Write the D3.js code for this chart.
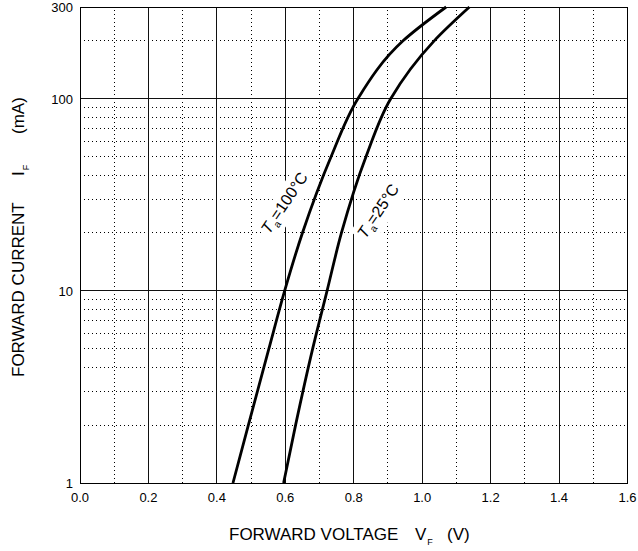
<!DOCTYPE html>
<html>
<head>
<meta charset="utf-8">
<script src="https://cdn.jsdelivr.net/npm/d3@7"></script>
<style>
  body { margin: 0; background: #fff; }
  text { font-family: "Liberation Sans", Arial, sans-serif; fill: #000; }
</style>
</head>
<body>
<svg id="chart" width="638" height="551"></svg>
<script>
// forward current (mA) and forward voltage (V)
const current = [1, 2, 5, 10, 20, 50, 100, 200, 300];
const vf100 = [0.447, 0.492, 0.552, 0.598, 0.650, 0.734, 0.812, 0.944, 1.070];
const vf25 = [0.595, 0.630, 0.680, 0.722, 0.764, 0.836, 0.908, 1.035, 1.138];

const xTicks = [0, 0.2, 0.4, 0.6, 0.8, 1.0, 1.2, 1.4, 1.6];
const xMinor = [0.1, 0.3, 0.5, 0.7, 0.9, 1.1, 1.3, 1.5];
const yTicks = [1, 10, 100, 300];
const yMajor = [10, 100];
const yMinor = [2, 3, 4, 5, 6, 7, 8, 9, 20, 30, 40, 50, 60, 70, 80, 90, 200];

const curves = [
    { name: "100", v: vf100, labelV: 0.553, labelI: 19.5 },
    { name: "25", v: vf25, labelV: 0.834, labelI: 18.5 }
];

const svg = d3.select("#chart");
const margin = { top: 7, right: 10.5, bottom: 68, left: 80 };
const W = 638, H = 551;

const x = d3.scaleLinear()
    .domain([0, 1.6])
    .range([margin.left, W - margin.right]);

const y = d3.scaleLog()
    .domain([1, 300])
    .range([H - margin.bottom, margin.top]);

const grid = svg.append("g").attr("shape-rendering", "crispEdges");

// dotted minor grid
grid.selectAll(".vmin").data(xMinor).enter().append("line")
    .attr("x1", d => x(d)).attr("x2", d => x(d))
    .attr("y1", y(1)).attr("y2", y(300))
    .attr("stroke", "#000").attr("stroke-width", 1)
    .attr("stroke-dasharray", "1,3");

grid.selectAll(".hmin").data(yMinor).enter().append("line")
    .attr("x1", x(0)).attr("x2", x(1.6))
    .attr("y1", d => y(d)).attr("y2", d => y(d))
    .attr("stroke", "#000").attr("stroke-width", 1)
    .attr("stroke-dasharray", "1,3");

// solid major grid
grid.selectAll(".vmaj").data(xTicks.slice(1, -1)).enter().append("line")
    .attr("x1", d => x(d)).attr("x2", d => x(d))
    .attr("y1", y(1)).attr("y2", y(300))
    .attr("stroke", "#111").attr("stroke-width", 1);

grid.selectAll(".hmaj").data(yMajor).enter().append("line")
    .attr("x1", x(0)).attr("x2", x(1.6))
    .attr("y1", d => y(d)).attr("y2", d => y(d))
    .attr("stroke", "#111").attr("stroke-width", 1);

// frame
grid.append("rect")
    .attr("x", x(0)).attr("y", y(300))
    .attr("width", x(1.6) - x(0)).attr("height", y(1) - y(300))
    .attr("fill", "none").attr("stroke", "#000").attr("stroke-width", 1);

// tick labels
svg.append("g").selectAll("text").data(xTicks).enter().append("text")
    .attr("x", d => x(d)).attr("y", y(1) + 19)
    .attr("text-anchor", "middle").attr("font-size", 13)
    .text(d => d.toFixed(1));

svg.append("g").selectAll("text").data(yTicks).enter().append("text")
    .attr("x", x(0) - 7).attr("y", d => y(d) + 5)
    .attr("text-anchor", "end").attr("font-size", 13)
    .text(d => d);

// curve labels with white box behind
curves.forEach(c => {
    const g = svg.append("g")
        .attr("transform", `translate(${x(c.labelV)},${y(c.labelI)}) rotate(-56)`);
    const bg = g.append("rect").attr("fill", "#fff");
    const t = g.append("text").attr("font-size", 16);
    t.append("tspan").attr("font-style", "italic").text("T");
    t.append("tspan").attr("font-size", 10).attr("dy", 4).attr("dx", 1).text("a");
    t.append("tspan").attr("dy", -4).text("=" + c.name + "°C");
    const b = t.node().getBBox();
    bg.attr("x", b.x - 2).attr("y", b.y - 3)
        .attr("width", b.width + 4).attr("height", b.height + 6);
});

// curves (x as a function of y, so the log-current axis is the parameter)
const line = d3.line()
    .x(d => x(d[0]))
    .y(d => y(d[1]))
    .curve(d3.curveMonotoneY);

curves.forEach(c => {
    svg.append("path")
        .datum(c.v.map((v, i) => [v, current[i]]))
        .attr("d", line)
        .attr("fill", "none")
        .attr("stroke", "#000")
        .attr("stroke-width", 2.8);
});

// axis titles
const xt = svg.append("text").attr("x", 229).attr("y", 540).attr("font-size", 17);
xt.append("tspan").text("FORWARD VOLTAGE");
xt.append("tspan").attr("x", 415).text("V");
xt.append("tspan").attr("font-size", 9).attr("dy", 5).attr("dx", 1).text("F");
xt.append("tspan").attr("x", 447).attr("dy", -5).text("(V)");

const yt = svg.append("text").attr("transform", "translate(24,0) rotate(-90)").attr("font-size", 17);
yt.append("tspan").attr("x", -377).text("FORWARD CURRENT");
yt.append("tspan").attr("x", -176).text("I");
yt.append("tspan").attr("font-size", 9).attr("dy", 5).attr("dx", 1).text("F");
yt.append("tspan").attr("x", -134).attr("dy", -5).text("(mA)");
</script>
</body>
</html>
